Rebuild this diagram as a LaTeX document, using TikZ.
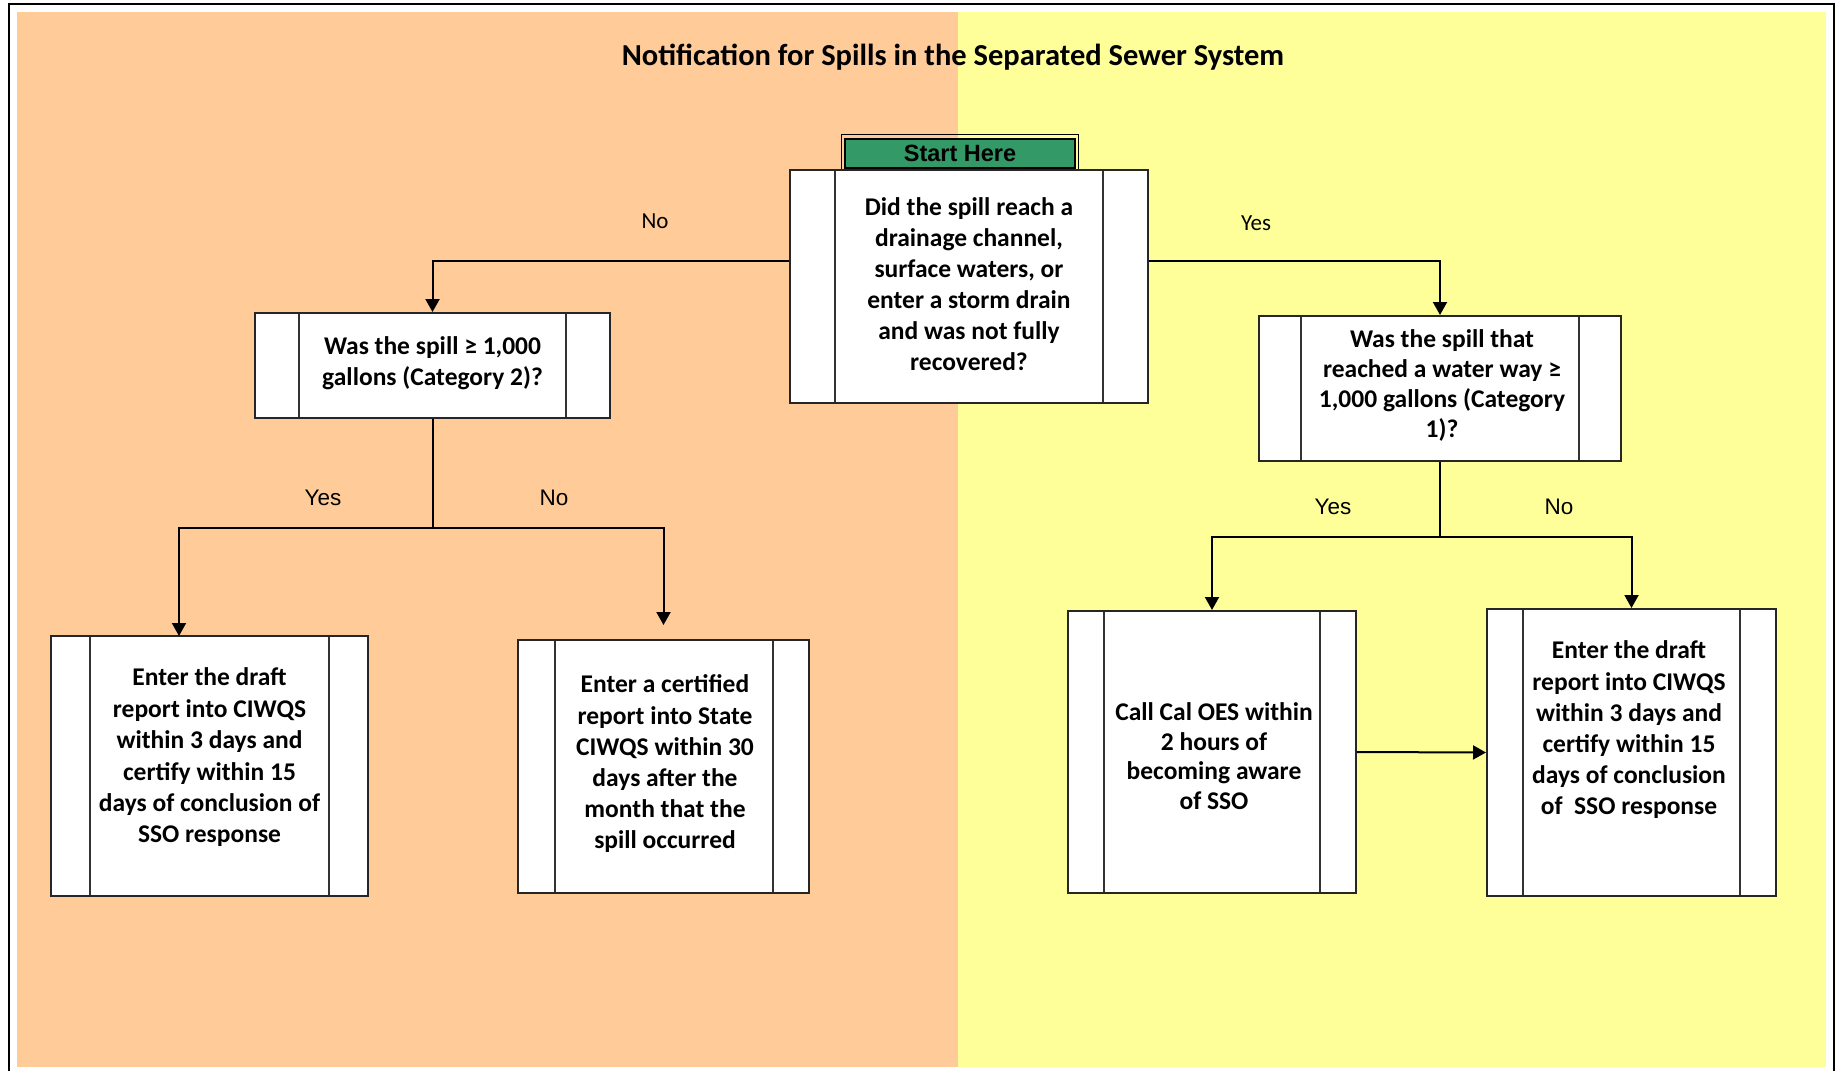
\documentclass[tikz,border=0pt]{standalone}
\usepackage{fontspec}
\setmainfont{Carlito}
\newfontfamily\arialf{Liberation Sans}
\usetikzlibrary{arrows.meta,calc}
\definecolor{bgtan}{HTML}{FFCC99}
\definecolor{bgyellow}{HTML}{FFFF99}
\definecolor{startgreen}{HTML}{339966}
\tikzset{
  proc/.style={draw=black!85, line width=2pt, fill=white, inner sep=0pt,
    path picture={\draw[line width=2pt, black!80]
      ([xshift=#1]path picture bounding box.north west) -- ([xshift=#1]path picture bounding box.south west)
      ([xshift=-#1]path picture bounding box.north east) -- ([xshift=-#1]path picture bounding box.south east);}},
  txt/.style={align=center, inner sep=0pt, font=\bfseries\fontsize{25.5}{31}\selectfont},
  arr/.style={-{Triangle[width=14pt,length=13pt]}, line width=2pt, black},
  conn/.style={line width=2pt, black},
  toplbl/.style={inner sep=0pt, font=\fontsize{23}{27}\selectfont},
  lbl/.style={inner sep=0pt, font=\arialf\fontsize{22.5}{27}\selectfont}
}
\begin{document}
\begin{tikzpicture}[x=1pt,y=-1pt]
\useasboundingbox (0,0) rectangle (1841,1071);
% background
\fill[white] (0,0) rectangle (1841,1071);
\fill[bgtan] (17,12) rectangle (958,1067);
\fill[bgyellow] (958,12) rectangle (1826,1067);
\draw[line width=2.5pt] (9,1071) -- (9,4) -- (1834,4) -- (1834,1071);
% title
\node[inner sep=0pt, font=\bfseries\fontsize{30.5}{36}\selectfont] (title) at (953,57.5) {Notification for Spills in the Separated Sewer System};
% start here
\node[draw=black, line width=1pt, minimum width=237pt, minimum height=40pt, inner sep=0pt] (startframe) at (959.5,154) {};
\node[draw=black, line width=2pt, fill=startgreen, minimum width=230pt, minimum height=29pt, inner sep=0pt,
      font=\arialf\bfseries\fontsize{23.5}{27}\selectfont] (start) at (960,153.5) {Start Here};
% boxes
\node[proc=45pt, minimum width=358pt, minimum height=233pt] (q0) at (969,286.5) {};
\node[txt] (q0t) at (969,284.5) {Did the spill reach a\\drainage channel,\\surface waters, or\\enter a storm drain\\and was not fully\\recovered?};
\node[proc=44pt, minimum width=355pt, minimum height=105pt] (q1) at (432.5,365.5) {};
\node[txt, font=\bfseries\fontsize{25.5}{30.5}\selectfont] (q1t) at (432.5,363) {Was the spill ≥ 1,000\\gallons (Category 2)?};
\node[proc=42pt, minimum width=362pt, minimum height=145pt] (q2) at (1440,388.5) {};
\node[txt, font=\bfseries\fontsize{25.5}{30.3}\selectfont] (q2t) at (1442,385.5) {Was the spill that\\reached a water way ≥\\1,000 gallons (Category\\1)?};
\node[proc=39pt, minimum width=317pt, minimum height=260pt] (b1) at (209.5,766) {};
\node[txt, font=\bfseries\fontsize{25.5}{31.4}\selectfont] (b1t) at (209.5,757.5) {Enter the draft\\report into CIWQS\\within 3 days and\\certify within 15\\days of conclusion of\\SSO response};
\node[proc=36.5pt, minimum width=291pt, minimum height=253pt] (b2) at (663.5,766.5) {};
\node[txt, font=\bfseries\fontsize{25.5}{31.2}\selectfont] (b2t) at (665,764) {Enter a certified\\report into State\\CIWQS within 30\\days after the\\month that the\\spill occurred};
\node[proc=36pt, minimum width=288pt, minimum height=282pt] (b3) at (1212,752) {};
\node[txt, font=\bfseries\fontsize{25.5}{29.5}\selectfont] (b3t) at (1214,756) {Call Cal OES within\\2 hours of\\becoming aware\\of SSO};
\node[proc=36pt, minimum width=289pt, minimum height=287pt] (b4) at (1631.5,752.5) {};
\node[txt, font=\bfseries\fontsize{25.5}{31.2}\selectfont] (b4t) at (1629,730) {Enter the draft\\report into CIWQS\\within 3 days and\\certify within 15\\days of conclusion\\of\ \ SSO response};
% junctions
\coordinate (k1) at (432.5,528);
\coordinate (e1) at (179,636);
\coordinate (e2) at (663.5,625);
\coordinate (k2) at (1440,537);
% connectors
\draw[arr] ([yshift=25.5pt]q0.west) -| (q1.north);
\draw[arr] ([yshift=25.5pt]q0.east) -| (q2.north);
\draw[conn] (q1.south) -- (k1);
\draw[arr] (k1) -| (e1);
\draw[arr] (k1) -| (e2);
\draw[conn] (q2.south) -- (k2);
\draw[arr] (k2) -| (b3.north);
\draw[arr] (k2) -| (b4.north);
\draw[arr] (b3.east) -- (b4.west);
% labels
\node[toplbl] (l0no) at (655,221) {No};
\node[toplbl] (l0yes) at (1256,223) {Yes};
\node[lbl] (l1yes) at (323,498) {Yes};
\node[lbl] (l1no) at (554,498) {No};
\node[lbl] (l2yes) at (1333,507) {Yes};
\node[lbl] (l2no) at (1559,507) {No};
\end{tikzpicture}
\end{document}
